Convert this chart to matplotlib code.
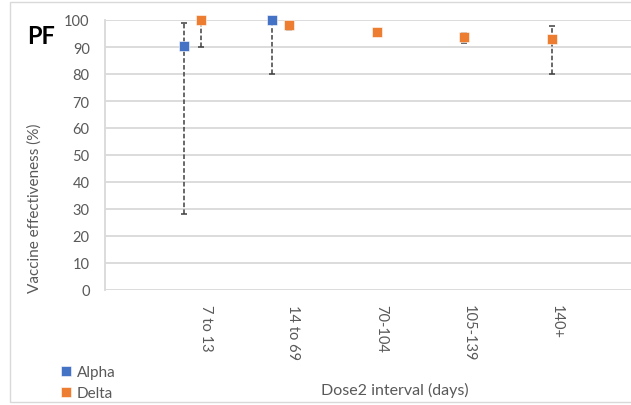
import matplotlib.pyplot as plt
from matplotlib.patches import Rectangle
import numpy as np

plt.rcParams['font.family'] = ['Lato', 'DejaVu Sans']

intervals = ['7 to 13', '14 to 69', '70-104', '105-139', '140+']

# Alpha only reported for the first two intervals
alpha_ve = [90.5, 100.0]
alpha_lo = [28.0, 80.0]
alpha_hi = [99.0, 100.0]

delta_ve = [100.0, 98.0, 95.7, 93.8, 92.9]
delta_lo = [90.0, 96.3, 95.2, 91.5, 80.0]
delta_hi = [100.0, 98.5, 96.2, 95.3, 97.6]

blue = '#4472C4'
orange = '#ED7D31'
grey_txt = '#595959'

fig = plt.figure(figsize=(6.31, 4.06), dpi=100)
ax = fig.add_axes([105/631, 1 - 291/406, 526/631, 270/406])

# chart frame
fig.patches.append(Rectangle((10/631, 3/406), 0.99, 0.985, transform=fig.transFigure,
                             fill=False, edgecolor='#d9d9d9', lw=1.0))

x = np.arange(1, len(intervals) + 1)
off = 0.1


def draw(xs, ve, lo, hi, color, label):
    ve = np.array(ve)
    err = [ve - np.array(lo), np.array(hi) - ve]
    eb = ax.errorbar(xs, ve, yerr=err, fmt='none', ecolor='#404040', elinewidth=1.1,
                     capsize=2.2, capthick=1.1, zorder=3)
    eb[2][0].set_linestyle((0, (3, 1.5)))
    ax.plot(xs, ve, 's', color=color, markersize=7.5, markeredgecolor='white',
            markeredgewidth=0.4, zorder=4, label=label, clip_on=False)


draw(x[:len(alpha_ve)] - off, alpha_ve, alpha_lo, alpha_hi, blue, 'Alpha')
draw(x + off, delta_ve, delta_lo, delta_hi, orange, 'Delta')

ax.set_xlim(0, 6)
ax.set_ylim(0, 100)
ax.set_yticks(np.arange(0, 101, 10))
ax.yaxis.grid(True, color='#d9d9d9', lw=1.3)
ax.set_axisbelow(True)
ax.set_xticks(x + 0.15)
ax.set_xticklabels(intervals, rotation=270, va='top', ha='center')
ax.tick_params(axis='both', length=0, colors=grey_txt, labelsize=10.5)
ax.tick_params(axis='x', pad=10)
ax.tick_params(axis='y', pad=11)
for s in ['top', 'right', 'bottom']:
    ax.spines[s].set_visible(False)
ax.spines['left'].set_color('#d9d9d9')
ax.spines['left'].set_linewidth(1.3)

fig.text(35/631, 1 - 208/406, 'Vaccine effectiveness (%)', rotation=90, ha='center',
         va='center', fontsize=11, color=grey_txt)
fig.text(395/631, 1 - 390/406, 'Dose2 interval (days)', ha='center', va='center',
         fontsize=11.5, color=grey_txt)
fig.text(27/631, 1 - 37/406, 'PF', ha='left', va='center', fontsize=17,
         fontweight='bold', color='black')

fig.legend(loc='lower left', bbox_to_anchor=(53/631, -3/406), frameon=False,
           fontsize=11, labelcolor=grey_txt, handlelength=0.75, handletextpad=0.3,
           labelspacing=0.45, borderpad=0)

fig.savefig('out.png', dpi=100)
